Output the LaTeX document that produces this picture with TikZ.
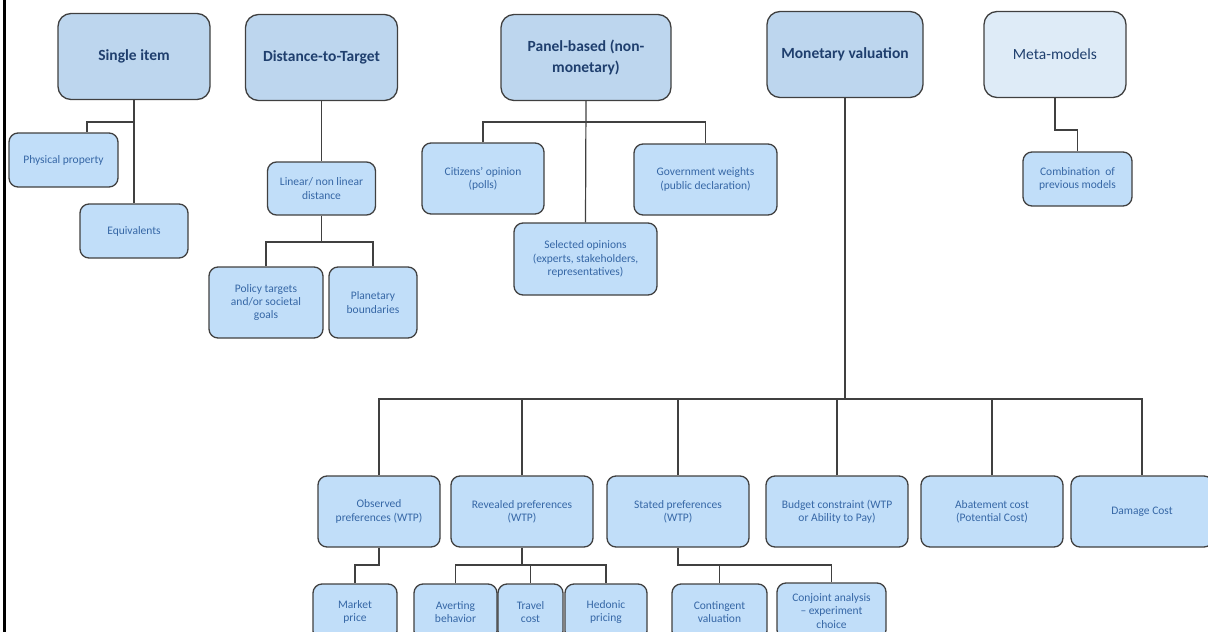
\documentclass[tikz,border=0pt]{standalone}
\usepackage{fontspec}
\setmainfont{Carlito}
\definecolor{topfill}{HTML}{BDD6EE}
\definecolor{subfill}{HTML}{C1DEF9}
\definecolor{metafill}{HTML}{DEEBF7}
\definecolor{edge}{HTML}{404040}
\definecolor{headtext}{HTML}{1F3F6E}
\definecolor{subtext}{HTML}{3667A6}
\begin{document}
\begin{tikzpicture}[x=1pt, y=-1pt,
    headbox/.style={draw=edge, line width=1.3pt, fill=topfill, rounded corners=13pt,
        minimum width=152pt, minimum height=86pt, align=center, text=headtext,
        font=\fontsize{15.5}{21}\selectfont\bfseries},
    subbox/.style={draw=edge, line width=1.3pt, fill=subfill, rounded corners=9pt,
        minimum height=71pt, align=center, text=subtext, inner sep=2pt,
        font=\fontsize{11.5}{13.2}\selectfont},
    link/.style={draw=edge, line width=1.2pt}]
    \useasboundingbox (0,0) rectangle (1208,632);
    \clip (0,0) rectangle (1208,632);
    \draw[line width=2.5pt] (4.5,0) -- (4.5,632);

    % Top level
    \node[headbox] (single) at (134,56.5) {Single item};
    \node[headbox] (dtt) at (321.5,57.5) {Distance-to-Target};
    \node[headbox, minimum width=170pt] (panel) at (586,57.5) {Panel-based (non-\\monetary)};
    \node[headbox, minimum width=156pt] (money) at (845,54.5) {Monetary valuation};
    \node[headbox, minimum width=142pt, fill=metafill, font=\fontsize{15.5}{21}\selectfont] (meta) at (1055,54.5) {Meta-models};

    % Single item
    \node[subbox, minimum width=109pt, minimum height=54pt] (phys) at (63.5,160) {Physical property};
    \node[subbox, minimum width=108pt, minimum height=54pt] (equiv) at (134,231) {Equivalents};
    \coordinate (sj) at (134,122);
    \draw[link] (single.south) -- (equiv.north);
    \draw[link] (sj) -| ([xshift=23.5pt]phys.north);

    % Distance-to-Target
    \node[subbox, minimum width=108pt, minimum height=53pt] (linear) at (321.5,188.5) {Linear/ non linear\\distance};
    \node[subbox, minimum width=114pt] (policy) at (266,302.5) {Policy targets\\and/or societal\\goals};
    \node[subbox, minimum width=88pt] (planet) at (373,302.5) {Planetary\\boundaries};
    \coordinate (lj) at (321.5,242);
    \draw[link] (dtt.south) -- (linear.north);
    \draw[link] (linear.south) -- (lj);
    \draw[link] (policy.north) |- (lj) -| (planet.north);

    % Panel-based
    \node[subbox, minimum width=122pt] (citizens) at (483,178.5) {Citizens' opinion\\(polls)};
    \node[subbox, minimum width=143pt] (govt) at (705.5,179.5) {Government weights\\(public declaration)};
    \node[subbox, minimum width=143pt, minimum height=72pt] (selected) at (585.5,259) {Selected opinions\\(experts, stakeholders,\\representatives)};
    \coordinate (pj) at (586,122);
    \draw[link] (panel.south) -- (selected.north);
    \draw[link] (citizens.north) |- (pj) -| (govt.north);

    % Meta-models
    \node[subbox, minimum width=109pt, minimum height=54pt] (combo) at (1077.5,179) {Combination~~of\\previous models};
    \coordinate (mj) at (1055,130);
    \draw[link] (meta.south) -- (mj) -| (combo.north);

    % Monetary valuation
    \node[subbox, minimum width=122pt] (observed) at (379,511.5) {Observed\\preferences (WTP)};
    \node[subbox, minimum width=142pt] (revealed) at (522,511.5) {Revealed preferences\\(WTP)};
    \node[subbox, minimum width=142pt] (stated) at (678,511.5) {Stated preferences\\(WTP)};
    \node[subbox, minimum width=142pt] (budget) at (837,511.5) {Budget constraint (WTP\\or Ability to Pay)};
    \node[subbox, minimum width=142pt] (abate) at (992,511.5) {Abatement cost\\(Potential Cost)};
    \node[subbox, minimum width=142pt] (damage) at (1142,511.5) {Damage Cost};
    \coordinate (bus) at (846,399);
    \draw[link] (money.south) -- (money.south |- bus);
    \draw[link] (observed.north) |- (bus) -| (damage.north);
    \foreach \n in {revealed,stated,budget,abate}
        \draw[link] (\n.north) -- (\n.north |- bus);

    % Third level
    \node[subbox, minimum width=84pt, minimum height=56pt] (market) at (355,612) {Market\\price};
    \node[subbox, minimum width=83pt, minimum height=56pt] (averting) at (455.5,612) {Averting\\behavior};
    \node[subbox, minimum width=65pt, minimum height=56pt] (travel) at (530.5,612) {Travel\\cost};
    \node[subbox, minimum width=82pt, minimum height=56pt] (hedonic) at (606,612) {Hedonic\\pricing};
    \node[subbox, minimum width=95pt, minimum height=56pt] (contingent) at (719.5,612) {Contingent\\valuation};
    \node[subbox, minimum width=109pt, minimum height=56pt] (conjoint) at (831.5,611) {Conjoint analysis\\-- experiment\\choice};
    \coordinate (oj) at (379,565);
    \coordinate (rj) at (522,565);
    \coordinate (tj) at (678,565);
    \draw[link] (observed.south) -- (oj) -| (market.north);
    \draw[link] (revealed.south) -- (rj);
    \draw[link] (averting.north) |- (rj) -| (hedonic.north);
    \draw[link] (travel.north) -- (travel.north |- rj);
    \draw[link] (stated.south) -- (tj) -| (conjoint.north);
    \draw[link] (contingent.north) -- (contingent.north |- tj);
\end{tikzpicture}
\end{document}
